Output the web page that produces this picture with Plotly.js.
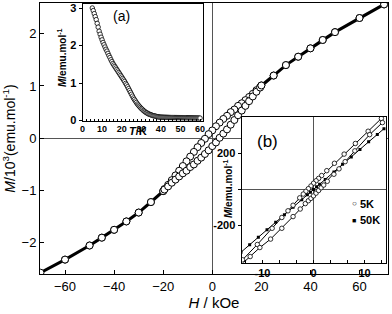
<!DOCTYPE html>
<html><head><meta charset="utf-8">
<script src="https://cdn.plot.ly/plotly-3.0.1.min.js"></script>
<style>html,body{margin:0;padding:0;background:#fff}#c{width:392px;height:314px}</style>
</head><body><div id="c"></div>
<script>
// ---- Main plot: M (10^3 emu/mol) vs H (kOe), 5 K loop ----
const mainHdown = [70,60,50,45,40,35,30,25,20,19.5,18,16.5,15,13.5,12,10.5,9,7.5,6,4.5,3,1.5,0,-1.5,-3,-4.5,-6,-7.5,-9,-10.5,-12,-13.5,-15,-16.5,-18,-19.5,-20,-25,-30,-35,-40,-45,-50,-60,-70];
const mainMdown = [2.56,2.30,2.03,1.88,1.72,1.56,1.40,1.20,1.01,0.98,0.92,0.85,0.79,0.73,0.67,0.62,0.55,0.50,0.43,0.37,0.30,0.23,0.15,0.08,-0.01,-0.09,-0.17,-0.26,-0.35,-0.44,-0.53,-0.62,-0.71,-0.80,-0.89,-0.97,-1.01,-1.22,-1.42,-1.59,-1.75,-1.90,-2.05,-2.32,-2.57];
const mainHup = [-60,-50,-45,-40,-35,-30,-25,-20,-19.5,-18,-16.5,-15,-13.5,-12,-10.5,-9,-7.5,-6,-4.5,-3,-1.5,0,1.5,3,4.5,6,7.5,9,10.5,12,13.5,15,16.5,18,19.5,20,25,30,35,40,45,50,60,70];
const mainMup = [-2.32,-2.05,-1.90,-1.75,-1.59,-1.42,-1.22,-1.01,-0.98,-0.92,-0.85,-0.79,-0.73,-0.67,-0.62,-0.55,-0.50,-0.43,-0.37,-0.30,-0.23,-0.15,-0.08,0.01,0.09,0.17,0.26,0.35,0.44,0.53,0.62,0.71,0.80,0.89,0.97,1.01,1.20,1.40,1.56,1.72,1.88,2.03,2.30,2.56];
const mainXTicks = [-60,-40,-20,0,20,40,60];
const mainYTicks = [-2,-1,0,1,2];

// ---- Inset (a): M (emu/mol) vs T (K) ----
const insetT = [5,5.5,6,6.5,7,7.5,8,8.5,9,9.5,10,10.5,11,11.5,12,12.5,13,13.5,14,14.5,15,15.5,16,16.5,17,17.5,18,18.5,19,19.5,20,20.5,21,21.5,22,22.5,23,23.5,24,24.5,25,25.5,26,26.5,27,27.5,28,28.5,29,29.5,30,30.5,31,31.5,32,32.5,33,33.5,34,34.5,35,35.5,36,36.5,37,37.5,38,38.5,39,39.5,40,40.5,41,41.5,42,42.5,43,43.5,44,44.5,45,45.5,46,46.5,47,47.5,48,48.5,49,49.5,50,50.5,51,51.5,52,52.5,53,53.5,54,54.5,55,55.5,56,56.5,57,57.5,58,58.5,59,59.5,60];
const insetMT = [3.00,2.93,2.85,2.77,2.69,2.59,2.49,2.38,2.30,2.22,2.15,2.08,2.02,1.96,1.90,1.85,1.79,1.73,1.68,1.62,1.57,1.52,1.48,1.44,1.40,1.36,1.32,1.28,1.24,1.20,1.16,1.12,1.08,1.04,0.99,0.95,0.90,0.85,0.80,0.75,0.70,0.65,0.60,0.56,0.52,0.48,0.44,0.41,0.38,0.35,0.32,0.30,0.27,0.25,0.23,0.21,0.20,0.18,0.17,0.16,0.15,0.14,0.13,0.125,0.12,0.11,0.105,0.10,0.095,0.09,0.09,0.088,0.087,0.086,0.085,0.084,0.083,0.082,0.081,0.080,0.079,0.078,0.078,0.077,0.077,0.076,0.076,0.075,0.075,0.074,0.074,0.073,0.073,0.072,0.072,0.071,0.071,0.070,0.070,0.069,0.069,0.068,0.068,0.067,0.067,0.066,0.066,0.065,0.065,0.064,0.064];
const insetATicks = [0,10,20,30,40,50,60];

// ---- Inset (b): M (emu/mol) vs H (kOe), 5 K loop and 50 K ----
const b5Hdown = [13.3,10.7,8.2,6.0,4.1,2.6,1.6,1.0,0.5,0,-0.5,-1.0,-1.5,-2.0,-2.7,-4.0,-5.0,-6.2,-8.1,-11.0,-13.9];
const b5Mdown = [395,324,256,197,146,105,78,62,49,35,20,5,-10,-25,-46,-87,-118,-155,-215,-305,-390];
const b5Hup = [-14.2,-12.4,-10.5,-8.4,-6.2,-4.0,-2.6,-1.6,-1.0,-0.5,0,0.5,1.0,1.5,2.0,2.7,4.0,5.0,6.2,8.1,11.0,13.5];
const b5Mup = [-418,-372,-322,-275,-215,-150,-108,-78,-62,-49,-35,-20,-5,10,25,46,85,115,155,215,305,372];
const b50H = [-14.2,-12.5,-10.8,-9.1,-7.4,-5.7,-4.0,-2.3,-1.2,-0.6,0,0.6,1.2,2.3,4.0,5.7,7.4,9.1,10.8,12.5,13.8];
const b50M = [-348,-306,-265,-223,-181,-140,-98,-56,-29,-15,0,15,29,56,98,140,181,223,265,306,338];
const insetBXTicks = [-13.33,-10,-6.67,-3.33,0,3.33,6.67,10,13.33];
const insetBXText = ['','-10','','','0','','','10',''];
const insetBYTicks = [-200,0,200];
const insetBYText = ['-200','','200'];

const F = 'Arial, "Liberation Sans", sans-serif';
const L = 40, R = 388, T = 3, B = 274;
const px = v => (v - L) / (R - L);
const py = v => (B - v) / (B - T);

const traces = [
  {x: mainHdown.concat(mainHup), y: mainMdown.concat(mainMup), xaxis:'x', yaxis:'y', mode:'lines+markers',
   line:{color:'#000', width:3}, marker:{symbol:'circle', size:7, color:'#fff', line:{color:'#000', width:1}}, showlegend:false},
  {x: insetT, y: insetMT, xaxis:'x2', yaxis:'y2', mode:'markers',
   marker:{symbol:'circle', size:4.5, color:'#fff', line:{color:'#000', width:0.8}}, showlegend:false},
  {x: b50H, y: b50M, xaxis:'x3', yaxis:'y3', mode:'lines+markers',
   line:{color:'#000', width:1}, marker:{symbol:'square', size:3, color:'#000'}, showlegend:false},
  {x: b5Hdown, y: b5Mdown, xaxis:'x3', yaxis:'y3', mode:'lines+markers',
   line:{color:'#000', width:1}, marker:{symbol:'circle', size:4.5, color:'#fff', line:{color:'#000', width:0.8}}, showlegend:false},
  {x: b5Hup, y: b5Mup, xaxis:'x3', yaxis:'y3', mode:'lines+markers',
   line:{color:'#000', width:1}, marker:{symbol:'circle', size:4.5, color:'#fff', line:{color:'#000', width:0.8}}, showlegend:false}
];

const axBase = {showgrid:false, showline:true, mirror:true, linecolor:'#000', linewidth:1, tickcolor:'#000'};
const ann = (x, y, text, font, extra) => Object.assign({xref:'paper', yref:'paper', x:px(x), y:py(y), text:text,
  showarrow:false, xanchor:'center', yanchor:'middle', font:font}, extra || {});

const layout = {
  width:392, height:314,
  margin:{l:L, r:392-R, t:T, b:314-B, pad:0},
  paper_bgcolor:'#fff', plot_bgcolor:'#fff',
  font:{family:F, color:'#000', size:13},
  showlegend:false,
  xaxis: Object.assign({}, axBase, {domain:[0,1], range:[-70.2,71.6], tickvals:mainXTicks, ticks:'inside', ticklen:4,
    zeroline:true, zerolinecolor:'#555', zerolinewidth:1, tickfont:{size:13},
    title:{text:'<i>H</i> / kOe', font:{size:15}, standoff:4}}),
  yaxis: Object.assign({}, axBase, {domain:[0,1], range:[-2.595,2.587], tickvals:mainYTicks, ticks:'inside', ticklen:4,
    zeroline:true, zerolinecolor:'#555', zerolinewidth:1, tickfont:{size:13},
    title:{text:'<i>M</i>/10<sup>3</sup>(emu.mol<sup>-1</sup>)', font:{size:14}, standoff:6}}),
  xaxis2: Object.assign({}, axBase, {domain:[px(82.5), px(203)], range:[0,61.5], anchor:'y2', tickvals:insetATicks,
    ticks:'inside', ticklen:2, zeroline:false, tickfont:{size:9, weight:'bold'},
    minor:{dtick:2, ticks:'inside', ticklen:2, tickcolor:'#000'}}),
  yaxis2: Object.assign({}, axBase, {domain:[py(120.5), py(4)], range:[0,3.107], anchor:'x2', tickvals:[0,1,2,3],
    ticks:'outside', ticklen:3, zeroline:false, tickfont:{size:11, weight:'bold'}}),
  xaxis3: Object.assign({}, axBase, {domain:[px(241.5), px(386)], range:[-14.1,14.2], anchor:'y3', tickvals:insetBXTicks, ticktext:insetBXText,
    ticks:'inside', ticklen:3, zeroline:true, zerolinecolor:'#555', zerolinewidth:1, tickfont:{size:11, weight:'bold'}}),
  yaxis3: Object.assign({}, axBase, {domain:[py(262.5), py(117)], range:[-405,403], anchor:'x3', tickvals:insetBYTicks, ticktext:insetBYText,
    ticks:'outside', ticklen:3, zeroline:true, zerolinecolor:'#555', zerolinewidth:1, tickfont:{size:11, weight:'bold'}}),
  annotations:[
    ann(121, 16, '(a)', {size:14}),
    ann(267, 141, '(b)', {size:17}),
    ann(62, 58, '<i>M</i>/emu.mol<sup>-1</sup>', {size:10, weight:'bold'}, {textangle:-90}),
    ann(138, 131, '<i>T</i>/K', {size:11, weight:'bold'}),
    ann(228, 189, '<i>M</i>/emu.mol<sup>-1</sup>', {size:10, weight:'bold'}, {textangle:-90}),
    ann(354, 204, '○', {size:8}),
    ann(358, 204, '5K', {size:11, weight:'bold'}, {xanchor:'left'}),
    ann(354, 220, '■', {size:7}),
    ann(358, 220, '50K', {size:11, weight:'bold'}, {xanchor:'left'})
  ]
};

Plotly.newPlot('c', traces, layout, {displayModeBar:false, staticPlot:true});
</script></body></html>
